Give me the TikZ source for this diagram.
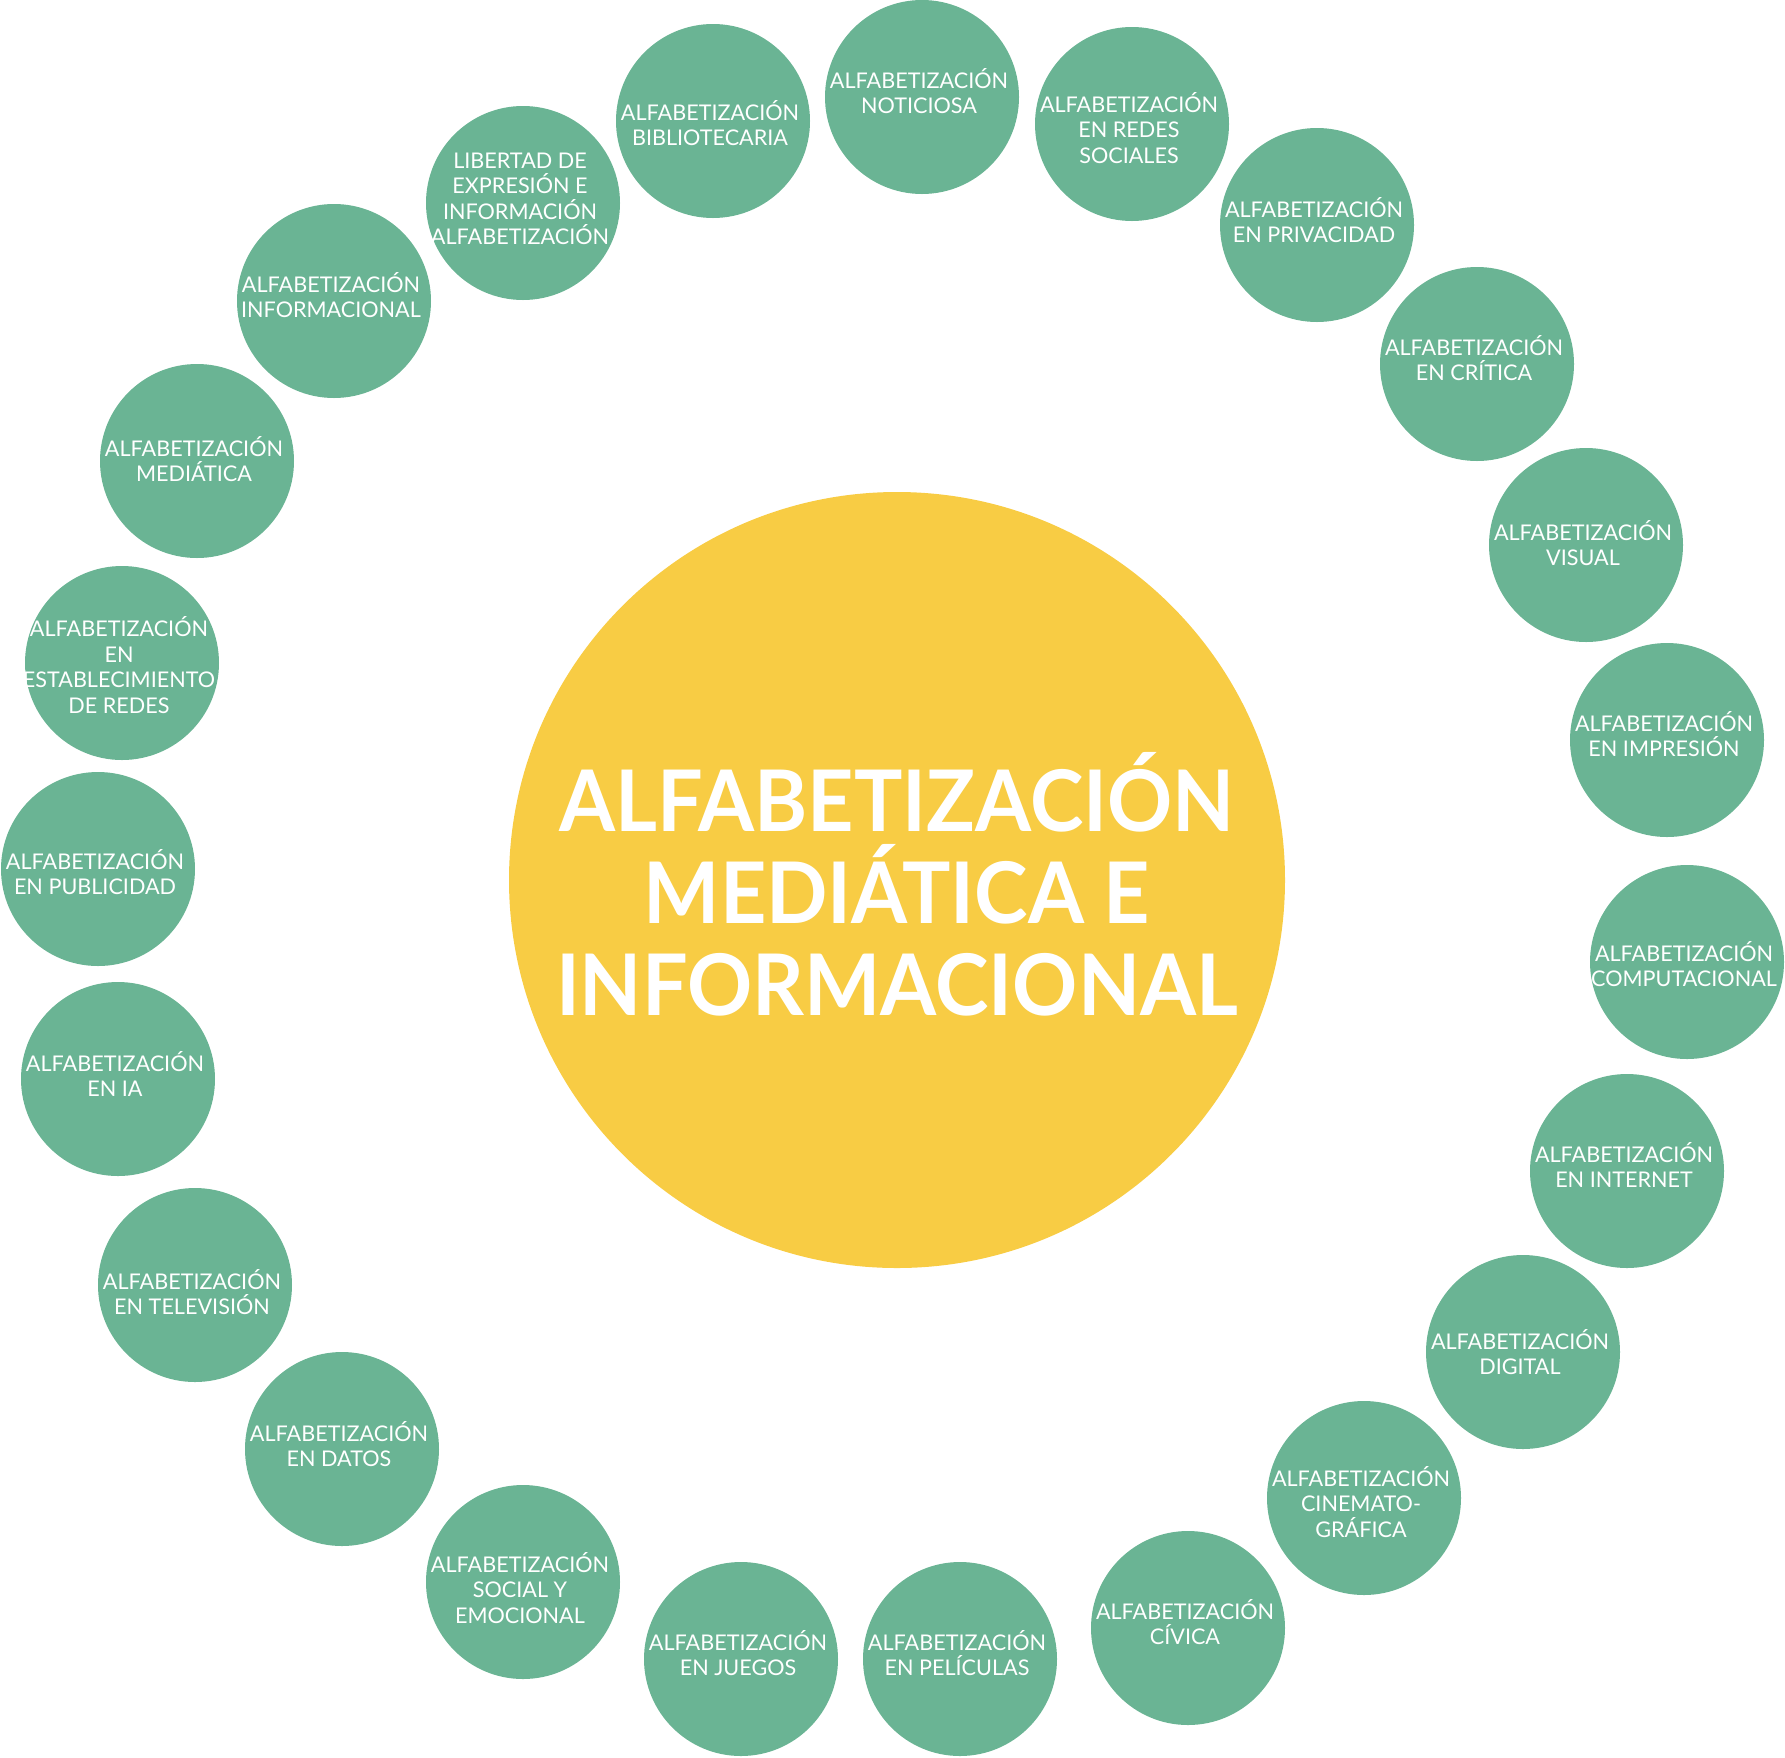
\documentclass[tikz,border=0pt]{standalone}
\usepackage{fontspec}
\setmainfont{Lato}
\newfontfamily\corefont[FakeStretch=0.95]{Lato}
\definecolor{gr}{HTML}{6AB494}
\definecolor{ye}{HTML}{F8CC44}
\newcommand\litnode[4]{%
  \node[lit] (#1) at #2 {};
  \node[lab, yshift=#3] (#1t) at (#1) {#4};}
\begin{document}
\begin{tikzpicture}[x=1pt,y=-1pt,
  lit/.style={circle, fill=gr, minimum size=194pt, inner sep=0pt},
  lab/.style={text=white, align=center, inner sep=0pt, xshift=-3pt,
    font=\fontsize{21.6}{25.5}\selectfont},
  core/.style={circle, fill=ye, minimum size=776pt, inner sep=0pt},
  coretext/.style={text=white, align=center, inner sep=0pt,
    font=\corefont\bfseries\fontsize{85}{92}\selectfont}]
\useasboundingbox (0,0) rectangle (1785,1757);
\node[core] (core) at (897,880) {};
\node[coretext] (title) at (897,884) {ALFABETIZACIÓN\\MEDIÁTICA E\\INFORMACIONAL};
\litnode{n1}{(922,97)}{6pt}{ALFABETIZACIÓN\\NOTICIOSA}
\litnode{n2}{(1132,124)}{-4pt}{ALFABETIZACIÓN\\EN REDES\\SOCIALES}
\litnode{n3}{(1317,225)}{5pt}{ALFABETIZACIÓN\\EN PRIVACIDAD}
\litnode{n4}{(1477,364)}{6pt}{ALFABETIZACIÓN\\EN CRÍTICA}
\litnode{n5}{(1586,545)}{2pt}{ALFABETIZACIÓN\\VISUAL}
\litnode{n6}{(1667,740)}{6pt}{ALFABETIZACIÓN\\EN IMPRESIÓN}
\litnode{n7}{(1687,962)}{-2pt}{ALFABETIZACIÓN\\COMPUTACIONAL}
\litnode{n8}{(1627,1171)}{6pt}{ALFABETIZACIÓN\\EN INTERNET}
\litnode{n9}{(1523,1352)}{0pt}{ALFABETIZACIÓN\\DIGITAL}
\litnode{n10}{(1364,1498)}{-4pt}{ALFABETIZACIÓN\\CINEMATO-\\GRÁFICA}
\litnode{n11}{(1188,1628)}{6pt}{ALFABETIZACIÓN\\CÍVICA}
\litnode{n12}{(960,1659)}{6pt}{ALFABETIZACIÓN\\EN PELÍCULAS}
\litnode{n13}{(741,1659)}{6pt}{ALFABETIZACIÓN\\EN JUEGOS}
\litnode{n14}{(523,1582)}{-6pt}{ALFABETIZACIÓN\\SOCIAL Y\\EMOCIONAL}
\litnode{n15}{(342,1449)}{5pt}{ALFABETIZACIÓN\\EN DATOS}
\litnode{n16}{(195,1285)}{-7pt}{ALFABETIZACIÓN\\EN TELEVISIÓN}
\litnode{n17}{(118,1079)}{5pt}{ALFABETIZACIÓN\\EN IA}
\litnode{n18}{(98,869)}{-3pt}{ALFABETIZACIÓN\\EN PUBLICIDAD}
\litnode{n19}{(122,663)}{-2pt}{ALFABETIZACIÓN\\EN\\ESTABLECIMIENTO\\DE REDES}
\litnode{n20}{(197,461)}{2pt}{ALFABETIZACIÓN\\MEDIÁTICA}
\litnode{n21}{(334,301)}{6pt}{ALFABETIZACIÓN\\INFORMACIONAL}
\litnode{n22}{(523,203)}{4pt}{LIBERTAD DE\\EXPRESIÓN E\\INFORMACIÓN\\ALFABETIZACIÓN}
\litnode{n23}{(713,121)}{-2pt}{ALFABETIZACIÓN\\BIBLIOTECARIA}
\end{tikzpicture}
\end{document}
